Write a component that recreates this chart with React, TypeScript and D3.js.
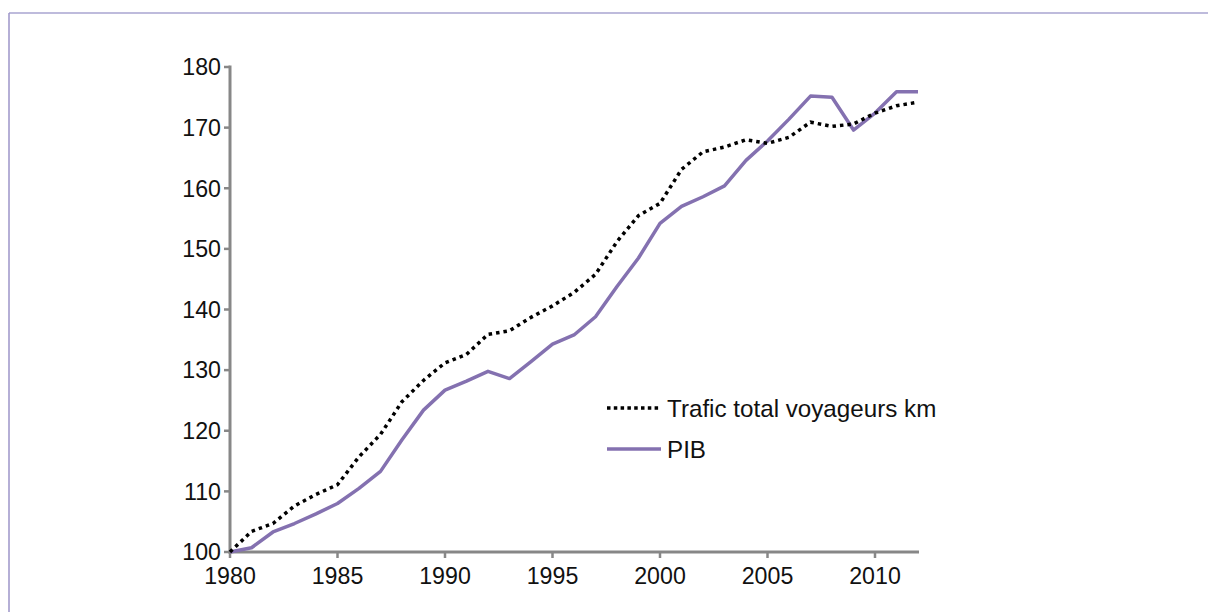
import React from "react";
import * as d3 from "d3";

const years: number[] = [1980,1981,1982,1983,1984,1985,1986,1987,1988,1989,1990,1991,1992,1993,1994,1995,1996,1997,1998,1999,2000,2001,2002,2003,2004,2005,2006,2007,2008,2009,2010,2011,2012];
const trafic: number[] = [100,103.4,104.7,107.6,109.5,111.1,115.7,119.4,124.8,128.3,131.2,132.6,135.9,136.5,138.7,140.6,142.8,145.8,151.2,155.5,157.5,163.1,166.0,166.8,168.0,167.4,168.4,170.9,170.2,170.6,172.4,173.6,174.2];
const pib: number[] = [100,100.7,103.3,104.7,106.3,108.0,110.5,113.3,118.5,123.4,126.7,128.2,129.8,128.6,131.4,134.3,135.8,138.8,143.8,148.5,154.2,157.0,158.6,160.4,164.6,167.8,171.4,175.2,175.0,169.6,172.4,175.9,175.9];
const yTicks: number[] = [100,110,120,130,140,150,160,170,180];
const xTicks: number[] = [1980,1985,1990,1995,2000,2005,2010];
const seriesNames: string[] = ["Trafic total voyageurs km", "PIB"];

export default function App() {
  const W = 1208, H = 612;
  const x = d3.scaleLinear().domain([1980, 2012]).range([230, 918]);
  const y = d3.scaleLinear().domain([100, 180]).range([552, 67]);
  const line = d3.line<[number, number]>().x(d => x(d[0])).y(d => y(d[1]));
  const tPts = years.map((yr, i) => [yr, trafic[i]] as [number, number]);
  const pPts = years.map((yr, i) => [yr, pib[i]] as [number, number]);
  const font = "'Liberation Sans', Arial, sans-serif";
  const axisColor = "#878787";
  const purple = "#8471b0";
  return (
    <svg width={W} height={H} style={{ position: "absolute", left: 0, top: 0, display: "block", background: "#fff" }}>
      <line x1={9} y1={13} x2={W} y2={13} stroke="#a9a4d0" strokeWidth={1.5} />
      <line x1={9} y1={13} x2={9} y2={H} stroke="#9c95c9" strokeWidth={1.5} />
      {yTicks.map(t => (
        <g key={"y" + t}>
          <line x1={224} x2={230} y1={y(t)} y2={y(t)} stroke={axisColor} strokeWidth={2.5} />
          <text x={221} y={y(t) + 8.3} textAnchor="end" fontFamily={font} fontSize={23.2} fill="#111">{t}</text>
        </g>
      ))}
      {xTicks.map(t => (
        <g key={"x" + t}>
          <line x1={x(t)} x2={x(t)} y1={552} y2={558} stroke={axisColor} strokeWidth={2.5} />
          <text x={x(t)} y={583.5} textAnchor="middle" fontFamily={font} fontSize={23.2} fill="#111">{t}</text>
        </g>
      ))}
      <line x1={230} x2={230} y1={65.5} y2={553.5} stroke={axisColor} strokeWidth={3} />
      <line x1={228.5} x2={919} y1={552} y2={552} stroke={axisColor} strokeWidth={3} />
      <path d={line(pPts) || ""} fill="none" stroke={purple} strokeWidth={3.5} strokeLinejoin="round" />
      <path d={line(tPts) || ""} fill="none" stroke="#000" strokeWidth={3.5} strokeDasharray="3.5,4" />
      <line x1={607} x2={661} y1={408} y2={408} stroke="#000" strokeWidth={3.5} strokeDasharray="3.5,3.3" />
      <text x={667} y={416.5} fontFamily={font} fontSize={24.2} fill="#111">{seriesNames[0]}</text>
      <line x1={607} x2={661} y1={449} y2={449} stroke={purple} strokeWidth={3.5} />
      <text x={667} y={457.5} fontFamily={font} fontSize={24.2} fill="#111">{seriesNames[1]}</text>
    </svg>
  );
}
